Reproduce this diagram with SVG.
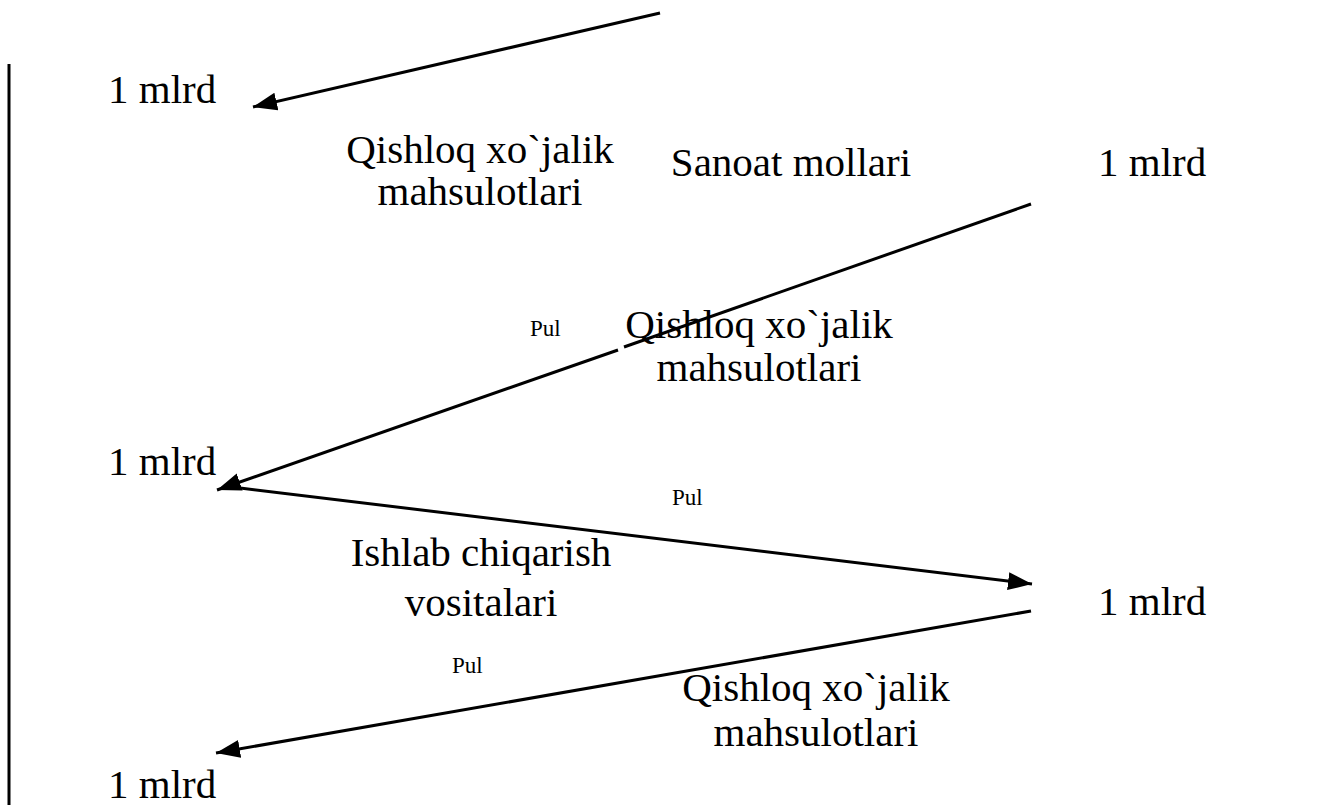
<svg xmlns="http://www.w3.org/2000/svg" width="1318" height="805" viewBox="0 0 1318 805">
<style>
.t{font-family:"Liberation Serif","Times New Roman",serif;font-size:41px;fill:#000}
.s{font-family:"Liberation Serif","Times New Roman",serif;font-size:23px;fill:#000}
.c{text-anchor:middle}
.ln{stroke:#000;stroke-width:3;fill:none}
</style>
<defs>
<marker id="ah" markerUnits="userSpaceOnUse" markerWidth="26" markerHeight="20" refX="24" refY="9" orient="auto">
<path d="M0,0 L24,9 L0,18 Z" fill="#000"/>
</marker>
</defs>
<rect width="1318" height="805" fill="#fff"/>
<g id="axis"><line class="ln" x1="9" y1="64" x2="9" y2="805"/></g>
<g id="connectors">
<line class="ln" x1="660" y1="13" x2="253" y2="107" marker-end="url(#ah)"/>
<line class="ln" x1="1031" y1="204" x2="624" y2="347"/>
<line class="ln" x1="618" y1="350" x2="217" y2="490" marker-end="url(#ah)"/>
<line class="ln" x1="240" y1="488" x2="1032" y2="584" marker-end="url(#ah)"/>
<line class="ln" x1="1031" y1="611" x2="216" y2="753" marker-end="url(#ah)"/>
</g>
<g id="n1"><text class="t" x="108" y="103">1 mlrd</text></g>
<g id="n2"><text class="t c" x="480" y="163">Qishloq xo`jalik</text><text class="t c" x="480" y="205">mahsulotlari</text></g>
<g id="n3"><text class="t c" x="791" y="176">Sanoat mollari</text></g>
<g id="n4"><text class="t" x="1098" y="176">1 mlrd</text></g>
<g id="n5"><text class="s" x="530" y="336">Pul</text></g>
<g id="n6"><text class="t c" x="759" y="338">Qishloq xo`jalik</text><text class="t c" x="759" y="381">mahsulotlari</text></g>
<g id="n7"><text class="t" x="108" y="475">1 mlrd</text></g>
<g id="n8"><text class="s" x="672" y="505">Pul</text></g>
<g id="n9"><text class="t c" x="481" y="566">Ishlab chiqarish</text><text class="t c" x="481" y="616">vositalari</text></g>
<g id="n10"><text class="t" x="1098" y="615">1 mlrd</text></g>
<g id="n11"><text class="s" x="452" y="673">Pul</text></g>
<g id="n12"><text class="t c" x="816" y="701">Qishloq xo`jalik</text><text class="t c" x="816" y="746">mahsulotlari</text></g>
<g id="n13"><text class="t" x="108" y="798">1 mlrd</text></g>
</svg>
